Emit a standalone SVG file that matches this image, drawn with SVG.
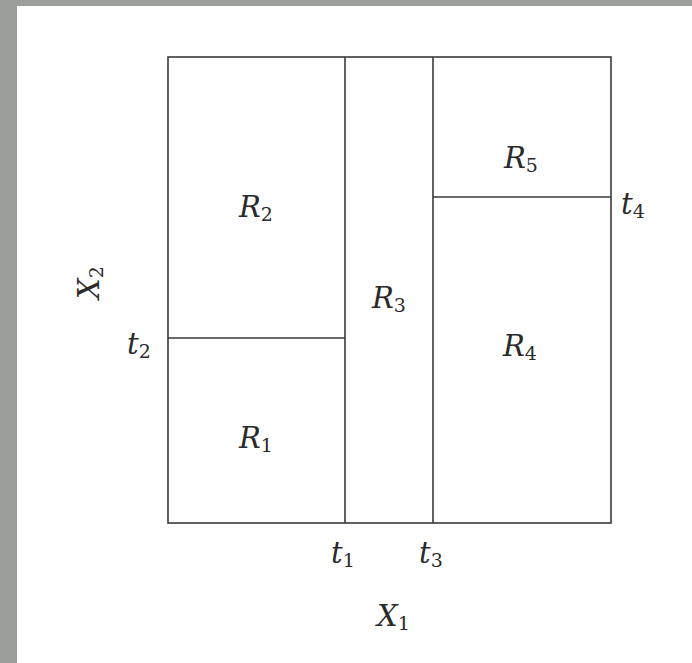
<svg xmlns="http://www.w3.org/2000/svg" width="692" height="663" viewBox="0 0 692 663">
<style>
.ln{stroke:#3a3a3a;stroke-width:1.6;fill:none}
.m{font-family:"DejaVu Serif","Liberation Serif",serif;font-style:italic;font-size:29px;fill:#2a2a2a}
.s{font-style:normal;font-size:19px}
</style>
<rect x="0" y="0" width="692" height="663" fill="#9b9e9b"/>
<rect x="17" y="6" width="675" height="657" fill="#ffffff"/>
<g id="regions">
<g id="R1"><text class="m" x="239" y="448">R<tspan class="s" dy="4">1</tspan></text></g>
<g id="R2"><text class="m" x="239" y="217">R<tspan class="s" dy="4">2</tspan></text></g>
<g id="R3"><text class="m" x="372" y="308">R<tspan class="s" dy="4">3</tspan></text></g>
<g id="R4"><text class="m" x="503" y="356">R<tspan class="s" dy="4">4</tspan></text></g>
<g id="R5"><text class="m" x="504" y="168">R<tspan class="s" dy="4">5</tspan></text></g>
</g>
<g id="connectors">
<rect class="ln" x="168" y="57" width="443" height="466"/>
<line class="ln" x1="345" y1="57" x2="345" y2="523"/>
<line class="ln" x1="433" y1="57" x2="433" y2="523"/>
<line class="ln" x1="168" y1="338" x2="345" y2="338"/>
<line class="ln" x1="433" y1="197" x2="611" y2="197"/>
</g>
<g id="labels">
<text class="m" x="127" y="354">t<tspan class="s" dy="4">2</tspan></text>
<text class="m" x="621" y="214">t<tspan class="s" dy="4">4</tspan></text>
<text class="m" x="331" y="563">t<tspan class="s" dy="4">1</tspan></text>
<text class="m" x="419" y="563">t<tspan class="s" dy="4">3</tspan></text>
<text class="m" x="377" y="626">X<tspan class="s" dy="4">1</tspan></text>
<text class="m" transform="translate(99,299) rotate(-90)">X<tspan class="s" dy="4">2</tspan></text>
</g>
</svg>
